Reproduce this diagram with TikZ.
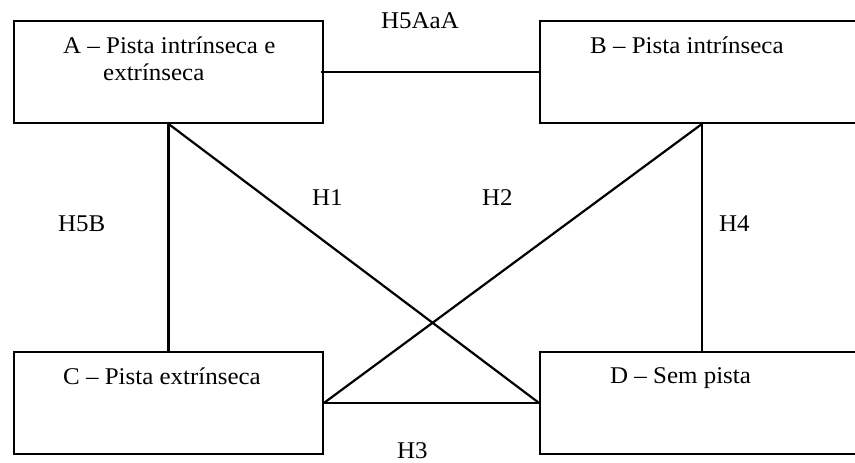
\documentclass[tikz,border=0pt]{standalone}
\usepackage{fontspec}
\setmainfont{Liberation Serif}[FakeStretch=1.04]
\begin{document}
\begin{tikzpicture}[x=1pt,y=-1pt,
  box/.style={draw=black,line width=1.8pt,minimum width=#1,minimum height=102pt,inner sep=0pt},
  conn/.style={draw=black,line width=2.2pt},
  txt/.style={anchor=base west,inner sep=0pt,font=\fontsize{24pt}{28pt}\selectfont}]
\clip (0,0) rectangle (855,463);
\useasboundingbox (0,0) rectangle (855,463);
% boxes
\node[box=309pt] (A) at (168.5,72) {};
\node[box=324pt] (B) at (702,72) {};
\node[box=309pt] (C) at (168.5,403) {};
\node[box=324pt] (D) at (702,403) {};
% box texts
\node[txt] (ta1) at (63,53) {A – Pista intrínseca e};
\node[txt] (ta2) at (103,80) {extrínseca};
\node[txt] (tb) at (590,53) {B – Pista intrínseca};
\node[txt] (tc) at (63,384) {C – Pista extrínseca};
\node[txt] (td) at (610,383) {D – Sem pista};
% connectors
\draw[conn] ([xshift=-3pt]A.east) -- (B.west);
\draw[conn] (A.south) -- (C.north);
\draw[conn] (A.south) -- (D.west);
\draw[conn] (B.south) -- (C.east);
\draw[conn] (B.south) -- (D.north);
\draw[conn] (C.east) -- (D.west);
% labels
\node[txt] (h5aaa) at (381,28) {H5AaA};
\node[txt] (h5b) at (58,231) {H5B};
\node[txt] (h1) at (312,205) {H1};
\node[txt] (h2) at (482,205) {H2};
\node[txt] (h4) at (719,231) {H4};
\node[txt] (h3) at (397,458) {H3};
\end{tikzpicture}
\end{document}
